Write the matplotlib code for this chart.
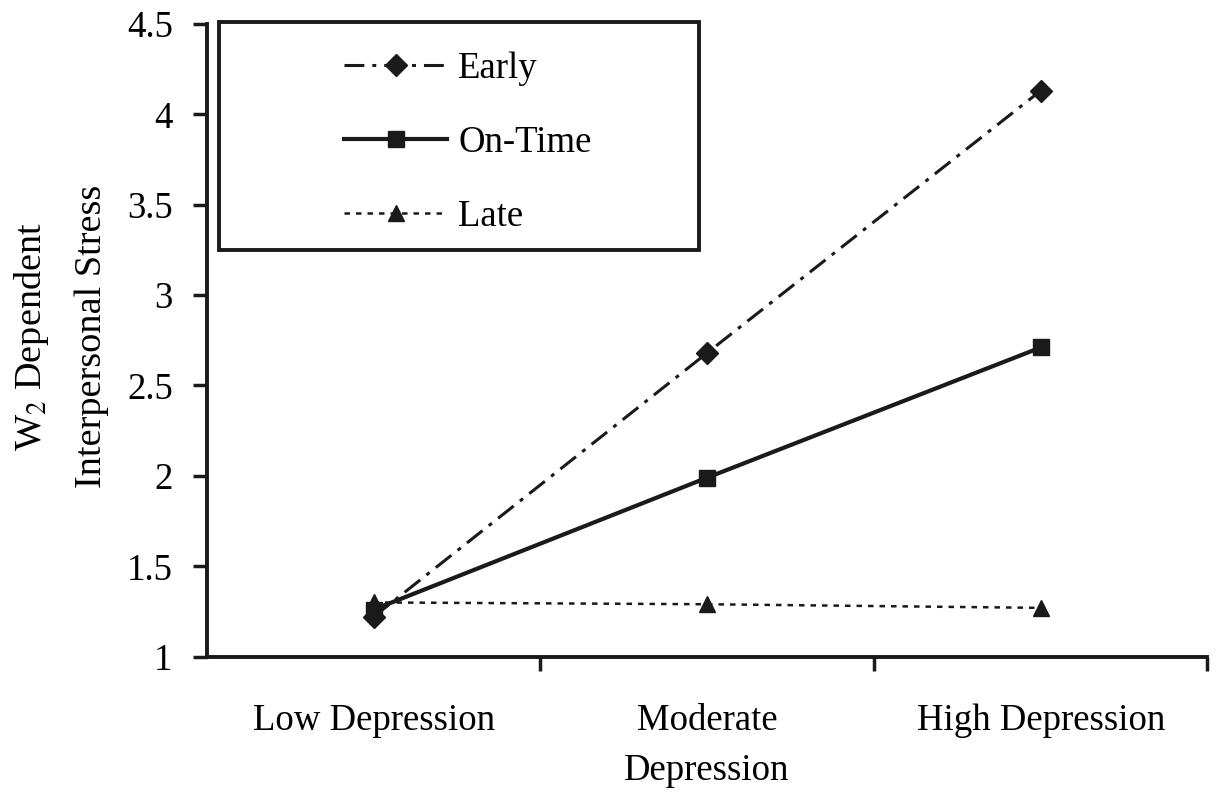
import matplotlib
matplotlib.use("Agg")
import matplotlib.pyplot as plt
from matplotlib.patches import Rectangle

plt.rcParams['font.family'] = ['Liberation Serif', 'DejaVu Serif']
plt.rcParams['mathtext.fontset'] = 'stix'

# data
groups = ["Low Depression", "Moderate\nDepression", "High Depression"]
early = [1.22, 2.68, 4.13]
on_time = [1.26, 1.99, 2.71]
late = [1.30, 1.29, 1.27]
y_ticks = [1, 1.5, 2, 2.5, 3, 3.5, 4, 4.5]
y_labels = ["1", "1.5", "2", "2.5", "3", "3.5", "4", "4.5"]

fs = 26.5
col = "#1a1a1a"

fig = plt.figure(figsize=(12.16, 7.95), dpi=100)
ax = fig.add_axes([0.170, 0.174, 0.823, 0.796])

x = list(range(len(groups)))
ax.plot(x, early, color=col, lw=2.2, dashes=[6.5, 2.6, 1.3, 2.6],
        marker="D", markersize=11, label="Early")
ax.plot(x, on_time, color=col, lw=3, linestyle="-",
        marker="s", markersize=11, label="On-Time")
ax.plot(x, late, color=col, lw=1.8, dashes=[2.2, 2.4],
        marker="^", markersize=11, label="Late")

ax.set_xlim(-0.5, 2.5)
ax.set_ylim(1, 4.5)
ax.set_yticks(y_ticks)
ax.set_yticklabels(y_labels, fontsize=fs)

# boundary ticks between categories, labels at the centres
ax.set_xticks([0.5, 1.5, 2.5])
ax.set_xticklabels([])
ax.set_xticks(x, minor=True)
ax.set_xticklabels(groups, minor=True, fontsize=fs, linespacing=1.58)
ax.tick_params(axis="x", which="minor", length=0, pad=34)
ax.tick_params(axis="x", which="major", length=10, width=2.5, direction="out", color=col)
ax.tick_params(axis="y", length=10, width=2.5, direction="out", color=col, pad=14.5)

for s in ["top", "right"]:
    ax.spines[s].set_visible(False)
for s in ["left", "bottom"]:
    ax.spines[s].set_linewidth(2.8)
    ax.spines[s].set_color(col)

fig.text(0.026, 0.577, "W$_2$ Dependent", rotation=90, fontsize=27.5,
         ha="center", va="center")
fig.text(0.0755, 0.577, "Interpersonal Stress", rotation=90, fontsize=27.5,
         ha="center", va="center")

# legend box
box = (0.012, 0.643, 0.48, 0.36)
ax.add_patch(Rectangle(box[:2], box[2], box[3], transform=ax.transAxes,
                       fill=True, facecolor="white", edgecolor=col,
                       linewidth=2.8, clip_on=False, zorder=5))
leg = ax.legend(loc="center", bbox_to_anchor=(0.021, 0.632, 0.48, 0.36),
                fontsize=fs, frameon=False,
                handlelength=2.8, handletextpad=0.3, labelspacing=1.07,
                borderpad=0, borderaxespad=0)
leg.set_zorder(6)

fig.savefig("out.png", dpi=100)
